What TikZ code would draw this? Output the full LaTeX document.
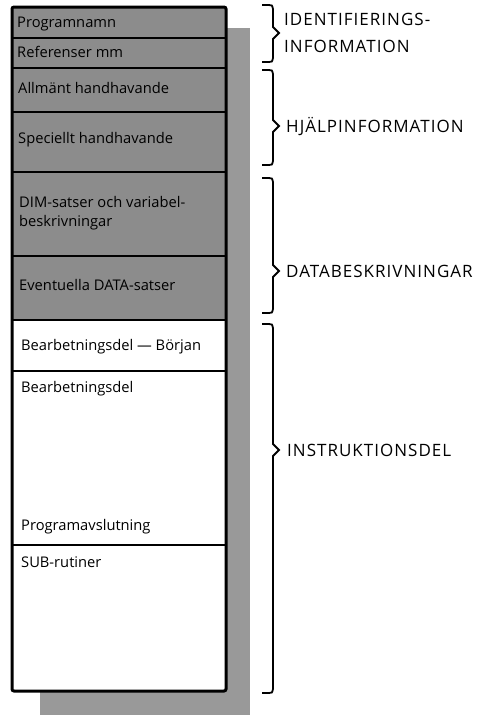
\documentclass[tikz,border=0pt]{standalone}
\usepackage{fontspec}
\setmainfont{Open Sans}
\newfontfamily\labelfont[LetterSpace=6]{Open Sans}
\begin{document}
\begin{tikzpicture}[x=1pt,y=-1pt,
  shade/.style={fill=black!45},
  shadowfill/.style={fill=black!40},
  frame/.style={draw=black,line width=3pt,rounded corners=2pt},
  heavyrule/.style={draw=black,line width=2.6pt},
  lightrule/.style={draw=black,line width=1.6pt},
  boxtext/.style={anchor=base west,inner sep=0pt,font=\fontsize{14.7}{16}\selectfont},
  grouplabel/.style={anchor=base west,inner sep=0pt,font=\labelfont\fontsize{17}{19}\selectfont},
  bracket/.style={draw=black,line width=1.8pt,line join=miter}]
\useasboundingbox (0,0) rectangle (479,716);

% drop shadow behind the column
\fill[shadowfill] (40,28) rectangle (250,715);

% column background and shaded header sections
\fill[white,rounded corners=2pt] (12,7) rectangle (226,691);
\fill[shade] (12,7) rectangle (226,320);

% section rules
\draw[lightrule] (12,38) -- (226,38);
\draw[heavyrule] (12,68) -- (226,68);
\draw[lightrule] (12,112) -- (226,112);
\draw[heavyrule] (12,172) -- (226,172);
\draw[lightrule] (12,256) -- (226,256);
\draw[heavyrule] (12,320) -- (226,320);
\draw[lightrule] (12,371) -- (226,371);
\draw[heavyrule] (12,545) -- (226,545);

% outer frame
\draw[frame] (12,7) rectangle (226,691);

% section texts
\node[boxtext] (pname) at (17,27) {Programnamn};
\node[boxtext] (ref) at (17,57) {Referenser mm};
\node[boxtext] (allm) at (18,93) {Allmänt handhavande};
\node[boxtext] (spec) at (18,143) {Speciellt handhavande};
\node[boxtext] (dim1) at (19,207) {DIM-satser och variabel-};
\node[boxtext] (dim2) at (19,226) {beskrivningar};
\node[boxtext] (data) at (19,290) {Eventuella DATA-satser};
\node[boxtext] (start) at (21,350) {Bearbetningsdel — Början};
\node[boxtext] (proc) at (21,392) {Bearbetningsdel};
\node[boxtext] (pend) at (21,530) {Programavslutning};
\node[boxtext] (sub) at (21,567) {SUB-rutiner};

% right-hand brackets: top, tip, bottom
\foreach \t/\m/\b in {5/33/62, 70/126/165, 178/271/313, 324/450/693}{
  \draw[bracket] (262,\t) -- (269,\t) .. controls (272,\t) .. (273,\t+4)
    -- (273,\m-6) -- (279,\m) -- (273,\m+6)
    -- (273,\b-4) .. controls (272,\b) .. (269,\b) -- (262,\b);
}

% group labels
\node[grouplabel] (idA) at (284,25) {IDENTIFIERINGS-};
\node[grouplabel] (idB) at (284,52) {INFORMATION};
\node[grouplabel] (help) at (286,132) {HJÄLPINFORMATION};
\node[grouplabel] (datadesc) at (286,277) {DATABESKRIVNINGAR};
\node[grouplabel] (instr) at (287,456) {INSTRUKTIONSDEL};
\end{tikzpicture}
\end{document}
